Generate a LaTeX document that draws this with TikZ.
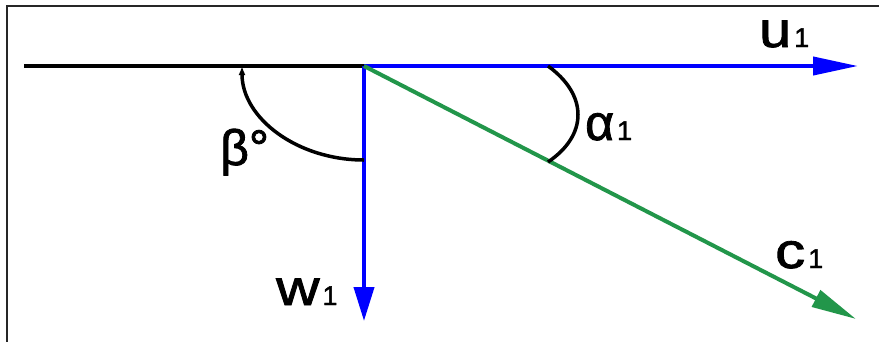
\documentclass[tikz,border=0pt]{standalone}
\usepackage{fontspec}
\usepackage{graphicx}
\setmainfont{Liberation Sans}
\newfontfamily\lblfont{Liberation Sans}[FakeBold=1.6]
\usetikzlibrary{arrows.meta}
\definecolor{vblue}{RGB}{0,0,255}
\definecolor{vgreen}{RGB}{34,150,74}
\newcommand\mylab[3][1]{{\lblfont\fontsize{50}{50}\selectfont\scalebox{#1}[1]{#2}}{\lblfont\fontsize{27}{27}\selectfont\hspace{3pt}#3}}
\begin{document}
\begin{tikzpicture}[x=1pt,y=-1pt,
  frameline/.style={line width=2.5pt, black!85},
  axisline/.style={line width=4pt, black},
  vec/.style={line width=4pt, -{Triangle[length=45pt,width=18pt]}},
  vecshort/.style={line width=4pt, -{Triangle[length=34pt,width=20pt]}},
  arcline/.style={line width=3.5pt, black},
  lbl/.style={inner sep=0pt, anchor=base west}]
\useasboundingbox (0,0) rectangle (879,341);
\fill[white] (0,0) rectangle (879,341);
% frame
\coordinate (fb) at (7,345);
\coordinate (fc) at (7,6);
\coordinate (fr) at (885,6);
\draw[frameline] (fb) -- (fc) -- (fr);
% points
\coordinate (O) at (364,66);
\coordinate (L) at (24,66);
\coordinate (U) at (858,66);
\coordinate (W) at (364,321);
\coordinate (C) at (856,319);
% lines
\draw[axisline] (L) -- (O);
\draw[vec, vblue] (O) -- (U);
\draw[vecshort, vblue] (O) -- (W);
\draw[vec, vgreen] (O) -- (C);
% arcs
\coordinate (b1) at (242,66);
\coordinate (b2) at (364,160);
\coordinate (a1) at (548,66);
\coordinate (a2) at (548,162);
\draw[arcline, {Latex[length=9pt,width=7pt]}-] (b1) .. controls (242,118) and (297,160) .. (b2);
\draw[arcline] (a1) .. controls (588,95) and (588,135) .. (a2);
% labels
\node[lbl] (lu) at (759,47) {\mylab[1.15]{u}{1}};
\node[lbl] (lc) at (775,268) {\mylab[1.2]{c}{1}};
\node[lbl] (lw) at (276,305) {\mylab[1.2]{w}{1}};
\node[lbl] (la) at (585,140) {\mylab{α}{1}};
\node[lbl] (lb) at (220,165) {{\lblfont\fontsize{50}{50}\selectfont β°}};
\end{tikzpicture}
\end{document}
